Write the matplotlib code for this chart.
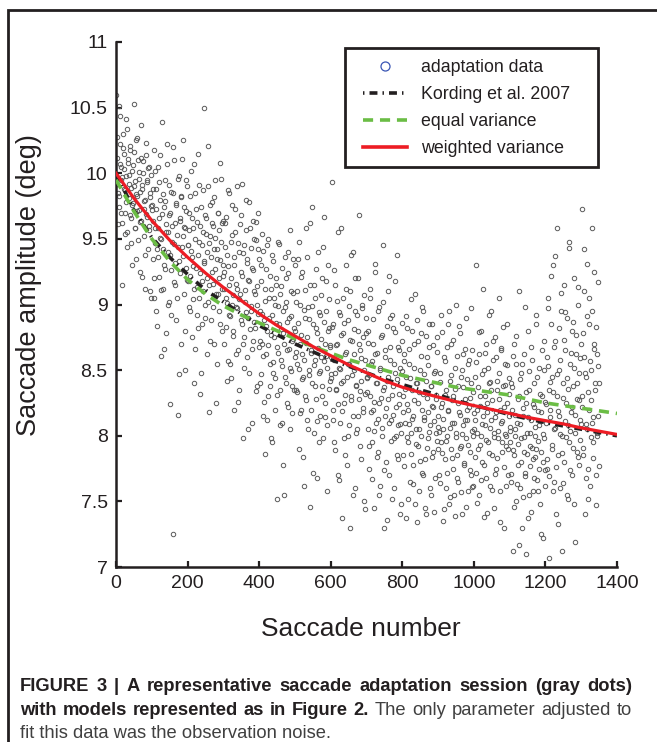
import numpy as np
import matplotlib
matplotlib.use("Agg")
import matplotlib.pyplot as plt
from matplotlib.lines import Line2D
from matplotlib.patches import Rectangle

plt.rcParams['font.family'] = ['Liberation Sans', 'DejaVu Sans']

# saccade amplitudes (deg), in blocks of 100 saccades:
# *_even are saccades start, start+2, ...; *_odd are start+1, start+3, ...
amp_0_even = [10.60, 10.12, 9.85, 10.51, 9.74, 10.22, 9.95, 10.05, 9.62, 10.30, 9.88, 10.15, 9.70, 9.98, 10.41, 9.55, 10.08, 9.81, 9.92, 10.18,
              9.66, 9.47, 10.02, 9.77, 10.53, 9.90, 9.58, 10.25, 9.35, 9.83, 10.10, 9.72, 9.96, 9.25, 10.37, 9.64, 9.88, 10.00, 9.52, 9.79,
              9.12, 10.14, 9.69, 9.93, 9.42, 10.05, 9.60, 9.82, 9.05, 9.75]
amp_0_odd = [9.92, 10.28, 9.61, 9.83, 10.07, 10.44, 9.70, 9.15, 9.97, 10.19, 10.03, 9.54, 9.87, 9.78, 10.34, 9.44, 10.11, 9.99, 9.68, 10.21,
             9.89, 9.30, 9.76, 10.06, 10.16, 9.58, 9.94, 9.84, 10.27, 9.71, 9.49, 10.01, 9.86, 9.63, 10.12, 9.21, 9.91, 10.09, 9.73, 9.80,
             9.38, 10.23, 9.95, 9.67, 10.04, 9.57, 9.85, 9.10, 9.99, 9.76]
amp_100_even = [9.72, 9.35, 10.18, 9.05, 9.58, 9.88, 8.95, 9.42, 10.05, 9.66, 9.21, 9.80, 8.61, 9.50, 10.39, 9.12, 9.74, 9.30, 9.95, 8.78,
                9.55, 10.22, 9.40, 9.02, 9.68, 8.24, 9.86, 9.26, 9.60, 7.25, 10.10, 9.46, 9.15, 9.77, 8.88, 9.53, 8.16, 9.98, 9.33, 9.64,
                8.70, 9.82, 9.44, 10.25, 9.08, 9.59, 8.50, 9.71, 9.28, 9.90]
amp_100_odd = [9.64, 9.88, 9.20, 9.47, 10.02, 9.73, 8.84, 9.58, 9.36, 9.93, 10.14, 9.51, 9.11, 9.69, 9.84, 9.42, 8.66, 9.79, 9.27, 9.61,
               10.07, 9.55, 9.00, 9.91, 9.38, 9.70, 8.92, 9.48, 10.20, 9.85, 9.17, 9.62, 9.32, 9.76, 9.05, 9.96, 9.44, 8.47, 9.66, 9.24,
               9.83, 10.11, 9.52, 9.37, 9.74, 8.80, 9.58, 9.95, 9.19, 9.45]
amp_200_even = [9.45, 8.98, 9.70, 9.22, 10.02, 8.75, 9.36, 9.58, 8.40, 9.12, 9.85, 9.28, 8.92, 9.63, 10.15, 9.05, 9.48, 8.32, 9.74, 9.18,
                8.85, 9.55, 9.32, 10.50, 9.00, 9.66, 8.62, 9.40, 9.90, 9.15, 8.18, 9.52, 8.88, 9.78, 9.25, 9.60, 8.70, 9.42, 9.95, 9.08,
                8.55, 9.35, 9.70, 8.95, 9.20, 10.08, 9.48, 8.80, 9.62, 9.30]
amp_200_odd = [9.18, 9.57, 9.83, 8.95, 9.41, 9.66, 9.04, 9.29, 10.07, 8.66, 9.50, 9.73, 9.13, 9.38, 8.82, 9.91, 9.24, 9.60, 8.48, 9.45,
               9.87, 9.10, 9.33, 9.68, 8.90, 9.54, 9.20, 10.21, 9.02, 9.47, 9.76, 8.72, 9.36, 9.62, 9.16, 8.98, 9.82, 9.27, 9.51, 8.25,
               9.42, 9.70, 9.08, 9.57, 8.85, 9.34, 9.96, 9.12, 9.64, 9.22]
amp_300_even = [9.25, 8.70, 9.62, 9.05, 8.42, 9.38, 9.87, 8.92, 9.15, 8.55, 9.48, 9.00, 9.76, 8.80, 9.30, 8.20, 9.55, 8.98, 9.12, 9.90,
                8.65, 9.40, 8.35, 9.08, 9.68, 8.85, 9.22, 7.98, 9.45, 8.75, 9.02, 9.80, 8.60, 9.35, 8.90, 9.18, 8.48, 9.58, 8.95, 8.10,
                9.28, 8.72, 9.50, 9.10, 8.82, 9.63, 8.38, 9.00, 9.42, 8.68]
amp_300_odd = [9.12, 9.44, 8.83, 9.67, 9.01, 8.57, 9.29, 9.85, 8.91, 9.20, 8.44, 9.53, 9.07, 8.76, 9.36, 9.73, 8.62, 9.16, 8.97, 9.47,
               8.26, 9.04, 9.61, 8.88, 9.25, 9.92, 8.70, 9.39, 8.52, 9.11, 9.57, 8.94, 9.32, 8.05, 9.19, 9.78, 8.81, 9.43, 8.99, 8.66,
               9.26, 9.64, 8.87, 9.08, 9.49, 8.34, 9.14, 9.70, 8.93, 9.35]
amp_400_even = [8.95, 8.40, 9.30, 8.70, 9.54, 8.15, 8.88, 9.12, 7.86, 8.62, 9.45, 8.80, 8.30, 9.05, 8.55, 9.22, 7.98, 8.92, 9.38, 8.48,
                8.75, 9.00, 8.20, 9.15, 7.52, 8.68, 9.48, 8.85, 8.35, 9.08, 8.58, 8.10, 9.28, 8.78, 7.55, 8.98, 8.45, 9.20, 8.65, 8.25,
                9.40, 8.90, 8.52, 8.05, 9.10, 8.72, 8.38, 9.35, 8.82, 8.60]
amp_400_odd = [8.72, 9.18, 8.47, 8.93, 9.41, 8.61, 8.26, 9.03, 8.84, 9.27, 8.12, 8.69, 9.50, 8.90, 8.38, 9.12, 8.77, 7.95, 8.56, 9.33,
               9.05, 8.44, 8.86, 9.20, 8.31, 8.99, 8.63, 9.46, 8.08, 8.81, 9.14, 8.53, 8.95, 7.78, 8.70, 9.36, 8.40, 9.02, 8.87, 8.22,
               9.24, 8.66, 9.57, 8.49, 8.91, 8.17, 9.09, 8.74, 8.35, 9.30]
amp_500_even = [8.80, 8.35, 9.10, 8.55, 9.35, 7.90, 8.70, 9.00, 8.20, 8.62, 9.25, 8.45, 7.62, 8.90, 8.30, 9.58, 8.75, 8.12, 8.98, 8.50,
                7.46, 9.15, 8.65, 8.40, 9.74, 8.85, 8.02, 8.58, 9.05, 8.28, 7.68, 8.78, 9.40, 8.48, 8.15, 8.92, 8.60, 9.20, 8.38, 7.98,
                9.67, 8.70, 8.25, 8.95, 8.52, 8.08, 9.30, 8.82, 8.42, 8.68]
amp_500_odd = [8.64, 9.02, 8.33, 8.86, 9.48, 8.51, 8.17, 8.77, 9.21, 8.43, 7.84, 8.96, 8.58, 9.11, 8.27, 8.71, 9.36, 8.05, 8.89, 8.46,
               9.62, 8.63, 8.20, 8.99, 7.72, 8.54, 9.15, 8.38, 8.82, 9.27, 8.11, 8.67, 8.94, 7.95, 8.49, 9.07, 8.74, 8.30, 9.44, 8.57,
               8.87, 8.14, 9.18, 8.61, 7.58, 8.80, 8.36, 9.04, 8.69, 8.44]
amp_600_even = [8.60, 9.93, 8.20, 8.85, 7.95, 8.48, 9.15, 8.35, 8.70, 7.70, 9.55, 8.52, 8.10, 8.92, 8.40, 7.37, 8.78, 9.05, 8.25, 8.62,
                7.85, 9.30, 8.45, 8.00, 8.88, 8.55, 7.30, 9.10, 8.30, 8.72, 8.15, 9.40, 8.50, 7.60, 8.95, 8.38, 8.05, 8.80, 9.20, 8.28,
                8.65, 7.92, 8.42, 9.00, 8.18, 8.75, 7.50, 8.58, 8.32, 8.90]
amp_600_odd = [8.47, 8.83, 8.12, 9.26, 8.58, 7.89, 8.69, 8.36, 9.03, 8.24, 7.66, 8.94, 8.51, 8.77, 9.58, 8.19, 8.42, 7.98, 8.86, 8.31,
               9.12, 8.64, 7.78, 8.55, 8.99, 8.08, 8.73, 9.38, 8.27, 8.46, 7.55, 8.81, 8.62, 9.20, 8.02, 8.39, 8.92, 8.15, 8.70, 9.68,
               8.34, 7.82, 8.59, 8.97, 8.21, 8.50, 9.07, 7.44, 8.78, 8.44]
amp_700_even = [8.45, 8.05, 8.80, 7.75, 8.30, 9.05, 8.55, 7.95, 8.20, 8.70, 7.45, 8.62, 9.25, 8.10, 8.40, 7.88, 8.95, 8.25, 7.62, 8.50,
                8.75, 8.00, 9.45, 8.35, 7.30, 8.15, 8.65, 7.80, 8.42, 9.10, 8.28, 7.70, 8.58, 8.90, 8.12, 7.52, 8.38, 8.82, 7.98, 8.48,
                9.18, 8.22, 7.85, 8.68, 8.08, 8.32, 7.40, 8.52, 8.02, 8.72]
amp_700_odd = [8.33, 8.71, 7.92, 8.46, 9.12, 8.18, 8.57, 7.67, 8.89, 8.26, 8.04, 9.31, 8.40, 7.84, 8.63, 8.13, 8.98, 7.55, 8.52, 8.29,
               8.77, 8.06, 9.02, 8.37, 7.74, 8.60, 8.21, 8.84, 7.36, 8.45, 9.22, 8.10, 8.68, 7.96, 8.31, 8.92, 8.16, 7.60, 8.55, 8.79,
               8.00, 8.43, 9.38, 7.82, 8.24, 8.65, 8.09, 7.48, 8.49, 8.86]
amp_800_even = [8.30, 7.85, 8.62, 8.10, 7.37, 8.45, 8.82, 7.95, 8.20, 8.55, 7.65, 8.02, 9.04, 8.35, 7.78, 8.15, 8.70, 7.48, 8.40, 8.05,
                8.88, 7.92, 8.25, 7.58, 8.50, 8.78, 8.00, 7.72, 8.32, 8.95, 8.12, 7.82, 8.42, 7.40, 8.60, 8.18, 7.98, 8.68, 8.08, 7.55,
                8.38, 8.85, 7.88, 8.22, 8.48, 7.68, 8.28, 8.02, 8.75, 7.90]
amp_800_odd = [8.18, 8.57, 7.77, 8.36, 8.91, 7.99, 8.24, 7.52, 8.66, 8.09, 8.44, 7.86, 8.80, 8.13, 7.63, 8.52, 8.27, 9.08, 7.94, 8.40,
               7.34, 8.72, 8.05, 8.33, 7.81, 8.61, 8.20, 8.98, 7.70, 8.47, 8.14, 7.45, 8.76, 8.29, 7.91, 8.54, 8.03, 8.85, 7.60, 8.38,
               8.23, 7.84, 8.69, 8.11, 7.42, 8.49, 8.31, 7.96, 8.64, 8.07]
amp_900_even = [8.15, 7.70, 8.48, 7.95, 8.92, 8.25, 7.35, 8.05, 8.60, 7.82, 8.35, 7.60, 8.00, 8.85, 8.20, 7.48, 8.42, 7.90, 8.70, 8.10,
                7.75, 8.30, 7.55, 8.52, 8.02, 9.00, 7.85, 8.38, 7.65, 8.18, 8.78, 7.92, 8.45, 7.40, 8.08, 8.62, 7.78, 8.28, 8.90, 7.98,
                8.12, 7.58, 8.55, 8.22, 7.88, 8.40, 7.70, 8.65, 8.00, 7.62]
amp_900_odd = [8.03, 8.41, 7.64, 8.22, 8.79, 7.87, 8.13, 7.44, 8.57, 8.31, 7.96, 8.68, 7.72, 8.19, 8.95, 8.06, 7.53, 8.46, 8.27, 7.83,
               8.73, 8.10, 7.39, 8.36, 7.99, 8.61, 7.68, 8.25, 8.84, 7.91, 8.16, 7.57, 8.50, 8.01, 8.37, 7.79, 8.66, 8.12, 7.46, 8.43,
               8.20, 7.93, 8.58, 7.74, 8.29, 8.97, 8.04, 7.61, 8.33, 8.17]
amp_1000_even = [8.05, 8.45, 7.72, 9.30, 8.20, 7.90, 8.62, 7.55, 8.30, 8.00, 8.80, 7.80, 8.15, 7.38, 8.50, 8.08, 8.70, 7.68, 8.25, 7.95,
                 8.40, 8.92, 7.62, 8.12, 8.35, 7.85, 8.58, 7.45, 8.02, 8.75, 8.18, 7.75, 8.42, 7.98, 9.05, 8.28, 7.58, 8.10, 8.65, 7.88,
                 8.38, 7.30, 8.22, 8.55, 7.92, 8.00, 8.85, 7.70, 8.32, 8.15]
amp_1000_odd = [8.12, 7.84, 8.56, 8.02, 7.49, 8.37, 8.79, 7.93, 8.23, 7.66, 8.47, 8.09, 9.12, 7.78, 8.30, 8.63, 7.97, 7.41, 8.18, 8.52,
                7.87, 8.41, 8.06, 8.95, 7.59, 8.27, 8.72, 7.99, 8.14, 7.71, 8.60, 8.35, 7.83, 8.04, 8.48, 7.34, 8.20, 8.67, 7.95, 8.11,
                8.83, 7.76, 8.39, 8.01, 7.62, 8.54, 8.25, 7.90, 8.44, 8.07]
amp_1100_even = [7.95, 8.40, 7.65, 8.20, 7.12, 8.70, 7.85, 8.05, 7.50, 8.55, 8.10, 7.78, 9.10, 8.30, 7.60, 7.98, 8.48, 7.30, 8.15, 7.88,
                 8.62, 7.72, 8.25, 7.10, 8.02, 8.80, 7.55, 8.35, 7.92, 8.12, 7.42, 8.58, 7.82, 8.22, 7.68, 8.00, 8.92, 7.90, 8.45, 7.58,
                 8.08, 7.75, 8.32, 7.25, 8.18, 8.65, 7.80, 7.98, 8.50, 7.62]
amp_1100_odd = [8.04, 7.71, 8.37, 7.89, 8.61, 7.46, 8.16, 8.00, 8.76, 7.63, 8.28, 7.94, 7.17, 8.43, 8.09, 7.80, 8.55, 7.53, 8.21, 7.99,
                8.98, 7.69, 8.33, 7.86, 8.14, 7.37, 8.49, 8.02, 7.77, 8.68, 7.91, 8.24, 7.58, 8.40, 8.07, 7.84, 8.85, 7.66, 8.19, 7.96,
                8.52, 7.48, 8.11, 7.88, 8.30, 7.22, 8.01, 8.72, 7.74, 8.26]
amp_1200_even = [8.10, 8.60, 7.75, 9.05, 8.35, 7.07, 8.20, 8.85, 7.90, 8.45, 9.30, 7.65, 8.05, 8.72, 7.40, 8.30, 9.58, 7.85, 8.50, 8.15,
                 7.60, 8.95, 8.00, 7.12, 8.40, 9.15, 7.80, 8.65, 8.25, 7.55, 8.90, 8.08, 9.43, 7.95, 8.55, 8.18, 7.70, 8.80, 8.38, 7.48,
                 9.20, 8.02, 8.62, 7.88, 8.28, 9.00, 8.48, 7.78, 8.12, 8.70]
amp_1200_odd = [8.24, 7.82, 8.53, 8.97, 7.69, 8.14, 8.41, 9.22, 7.93, 8.33, 7.58, 8.68, 8.06, 9.37, 7.76, 8.47, 8.19, 7.33, 8.82, 8.01,
                8.58, 9.09, 7.87, 8.29, 7.64, 8.73, 8.11, 8.94, 7.99, 8.44, 7.52, 8.36, 9.48, 8.04, 7.74, 8.63, 8.22, 8.87, 7.91, 8.52,
                7.19, 8.16, 8.77, 8.40, 7.84, 9.13, 8.27, 7.97, 8.59, 8.09]
amp_1300_even = [8.30, 9.73, 7.85, 8.60, 9.10, 7.40, 8.45, 8.05, 9.31, 7.75, 8.20, 8.85, 7.62, 8.50, 8.95, 8.10, 7.95, 8.70, 9.25, 8.35,
                 7.70, 8.00, 8.62, 8.15, 8.40]
amp_1300_odd = [8.22, 8.78, 7.91, 9.42, 8.48, 7.68, 8.09, 8.91, 8.33, 7.52, 9.05, 8.57, 7.99, 8.27, 9.58, 8.14, 7.83, 8.66, 8.40, 7.47,
                8.83, 8.02, 9.17, 8.53, 7.77]

block_start = [0, 100, 200, 300, 400, 500, 600, 700, 800, 900, 1000, 1100, 1200, 1300]
blocks_even = [amp_0_even, amp_100_even, amp_200_even, amp_300_even, amp_400_even, amp_500_even, amp_600_even,
               amp_700_even, amp_800_even, amp_900_even, amp_1000_even, amp_1100_even, amp_1200_even, amp_1300_even]
blocks_odd = [amp_0_odd, amp_100_odd, amp_200_odd, amp_300_odd, amp_400_odd, amp_500_odd, amp_600_odd,
              amp_700_odd, amp_800_odd, amp_900_odd, amp_1000_odd, amp_1100_odd, amp_1200_odd, amp_1300_odd]

# model fits, read every 50 saccades
model_x = list(range(0, 1401, 50))
kording = [10.00, 9.72, 9.51, 9.36, 9.23, 9.11, 9.02, 8.93, 8.84, 8.77, 8.70, 8.64, 8.58, 8.53, 8.48,
           8.43, 8.39, 8.35, 8.31, 8.27, 8.23, 8.20, 8.16, 8.13, 8.10, 8.075, 8.05, 8.025, 8.00]
equal_var = [9.95, 9.71, 9.50, 9.33, 9.19, 9.08, 8.99, 8.92, 8.86, 8.80, 8.74, 8.68, 8.63, 8.58, 8.54,
             8.50, 8.46, 8.43, 8.40, 8.37, 8.35, 8.33, 8.31, 8.28, 8.25, 8.23, 8.21, 8.19, 8.17]
weighted_var = [10.00, 9.81, 9.64, 9.49, 9.36, 9.24, 9.13, 9.03, 8.93, 8.84, 8.76, 8.68, 8.61, 8.54, 8.48,
                8.42, 8.37, 8.33, 8.295, 8.26, 8.23, 8.20, 8.17, 8.14, 8.115, 8.09, 8.06, 8.035, 8.01]

saccade = []
amplitude = []
for start, ev, od in zip(block_start, blocks_even, blocks_odd):
    for i, v in enumerate(ev):
        saccade.append(start + 2 * i + 1)
        amplitude.append(v)
    for i, v in enumerate(od):
        saccade.append(start + 2 * i + 2)
        amplitude.append(v)
saccade = np.array(saccade)
amplitude = np.array(amplitude)

W, H = 657, 742
fig = plt.figure(figsize=(W / 100, H / 100), dpi=100)

# outer frame of the figure panel
fig.patches.append(Rectangle((8 / W, -0.1), 1.2, 1 - 10 / H + 0.1, transform=fig.transFigure,
                             fill=False, edgecolor='#231f20', linewidth=2.0))

ax = fig.add_axes([116 / W, 1 - 567 / H, 501 / W, 525 / H])

ax.plot(saccade, amplitude, 'o', markerfacecolor='none', markeredgecolor='#5a5a5a',
        markersize=3.2, markeredgewidth=0.7, zorder=2)
ax.plot(model_x, kording, color='#231f20', linewidth=2.6, dashes=(2.2, 1.4, 0.4, 1.4), zorder=3)
ax.plot(model_x, equal_var, color='#6bbd45', linewidth=2.6, dashes=(2.8, 1.9), zorder=3)
ax.plot(model_x, weighted_var, color='#ed1c24', linewidth=2.3, zorder=4)

ax.set_xlim(0, 1400)
ax.set_ylim(7, 11)
ax.set_xticks(range(0, 1401, 200))
ax.set_yticks([7, 7.5, 8, 8.5, 9, 9.5, 10, 10.5, 11])
ax.set_yticklabels(['7', '7.5', '8', '8.5', '9', '9.5', '10', '10.5', '11'])
ax.tick_params(direction='in', length=4, width=1.6, labelsize=14, pad=6, colors='#231f20')
ax.spines['top'].set_visible(False)
ax.spines['right'].set_visible(False)
for s in ['left', 'bottom']:
    ax.spines[s].set_linewidth(1.8)
    ax.spines[s].set_color('#231f20')
ax.set_facecolor('none')

ax.set_xlabel('Saccade number', fontsize=19, color='#231f20')
ax.set_ylabel('Saccade amplitude (deg)', fontsize=19.5, color='#231f20')
ax.xaxis.set_label_coords(245 / 501, -50 / 525)
ax.yaxis.set_label_coords(-74 / 501, 282 / 525)

# legend
handles = [
    Line2D([], [], linestyle='none', marker='o', markerfacecolor='none', markeredgecolor='#3a55b4',
           markersize=6.5, markeredgewidth=0.9),
    Line2D([], [], color='#231f20', linewidth=2.6, dashes=(0.4, 1.4, 2.2, 1.4)),
    Line2D([], [], color='#6bbd45', linewidth=2.6, dashes=(2.8, 1.9)),
    Line2D([], [], color='#ed1c24', linewidth=2.6),
]
labels = ['adaptation data', 'Kording et al. 2007', 'equal variance', 'weighted variance']
leg = fig.legend(handles, labels, loc='upper left', bbox_to_anchor=(363 / W, 1 - 59 / H),
                 frameon=False, fontsize=12.8, handlelength=2.5, handletextpad=0.78,
                 labelspacing=0.57, borderpad=0.0, borderaxespad=0.0)
for t in leg.get_texts():
    t.set_color('#231f20')
fig.patches.append(Rectangle((345 / W, 1 - 167 / H), 253 / W, 119 / H, transform=fig.transFigure,
                             fill=False, edgecolor='#231f20', linewidth=2.0, zorder=5))

# caption: justified text, so the first two lines run from margin to margin
cap_font = ['Liberation Sans', 'DejaVu Sans']
fs = 13.2
cap_left, cap_right = 20, 632
dark, grey = '#231f20', '#404040'


def justified_line(words, y):
    # words: list of (text, weight, colour)
    texts = [fig.text(0, 1 - y / H, w, fontsize=fs, fontweight=wt, family=cap_font, color=c, va='baseline')
             for w, wt, c in words]
    fig.canvas.draw()
    r = fig.canvas.get_renderer()
    widths = [t.get_window_extent(r).width for t in texts]
    gap = (cap_right - cap_left - sum(widths)) / (len(texts) - 1)
    x = cap_left
    for t, wd in zip(texts, widths):
        t.set_x(x / W)
        x += wd + gap


line1 = 'FIGURE 3 | A representative saccade adaptation session (gray dots)'
line2_bold = 'with models represented as in Figure 2.'
line2_rest = 'The only parameter adjusted to'
justified_line([(w, 'bold', dark) for w in line1.split()], 691)
justified_line([(w, 'bold', dark) for w in line2_bold.split()] +
               [(w, 'normal', grey) for w in line2_rest.split()], 715)
fig.text(cap_left / W, 1 - 738 / H, 'fit this data was the observation noise.',
         fontsize=fs, family=cap_font, color=grey, va='baseline')

fig.savefig('out.png', dpi=100)
